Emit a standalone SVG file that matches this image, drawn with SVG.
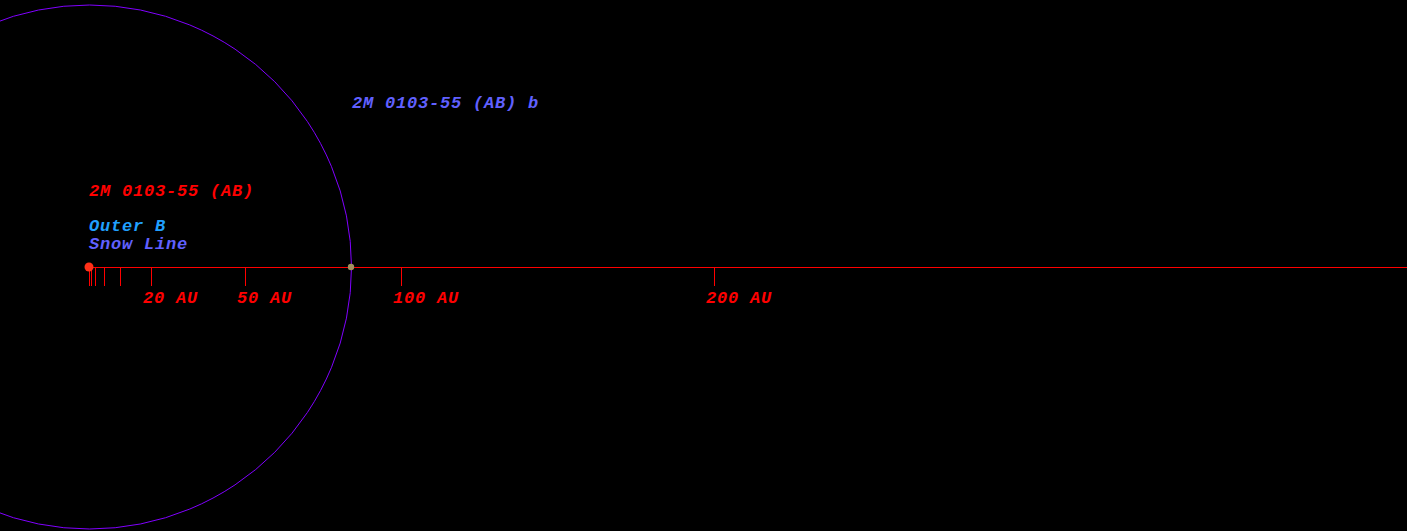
<svg xmlns="http://www.w3.org/2000/svg" width="1407" height="531" viewBox="0 0 1407 531">
<style>
text{font-family:"Liberation Mono","Courier New",monospace;font-size:17px;letter-spacing:0.8px;font-style:italic;font-weight:bold}
.red{fill:#ff0000}
.tick{stroke:#ff0000;stroke-width:1}
</style>
<rect width="1407" height="531" fill="#000"/>
<g id="connectors">
<line class="tick" x1="89" y1="267.5" x2="1407" y2="267.5"/>
<line class="tick" x1="89.5" y1="267" x2="89.5" y2="286" stroke-width="2"/>
<line class="tick" x1="91.5" y1="267" x2="91.5" y2="286" stroke-width="2"/>
<line class="tick" x1="95.5" y1="267" x2="95.5" y2="286"/>
<line class="tick" x1="104.5" y1="267" x2="104.5" y2="286"/>
<line class="tick" x1="120.5" y1="267" x2="120.5" y2="286"/>
<line class="tick" x1="151.5" y1="267" x2="151.5" y2="286"/>
<line class="tick" x1="245.5" y1="267" x2="245.5" y2="286"/>
<line class="tick" x1="401.5" y1="267" x2="401.5" y2="286"/>
<line class="tick" x1="714.5" y1="267" x2="714.5" y2="286"/>
</g>
<g id="orbit">
<circle cx="89.5" cy="267" r="262" fill="none" stroke="#8000ff" stroke-width="1"/>
</g>
<g id="star">
<circle cx="89" cy="267" r="4.5" fill="#ff3018"/>
<text class="red" x="89" y="196">2M 0103-55 (AB)</text>
</g>
<g id="zones">
<text x="89" y="231" fill="#20a0ff">Outer B</text>
<text x="89" y="249" fill="#6060ff">Snow Line</text>
</g>
<g id="planet">
<circle cx="351" cy="267" r="3.2" fill="#a09060"/>
<text x="352" y="108" fill="#6060ff">2M 0103-55 (AB) b</text>
</g>
<g id="scale">
<text class="red" x="143" y="303">20 AU</text>
<text class="red" x="237" y="303">50 AU</text>
<text class="red" x="393" y="303">100 AU</text>
<text class="red" x="706" y="303">200 AU</text>
</g>
</svg>
